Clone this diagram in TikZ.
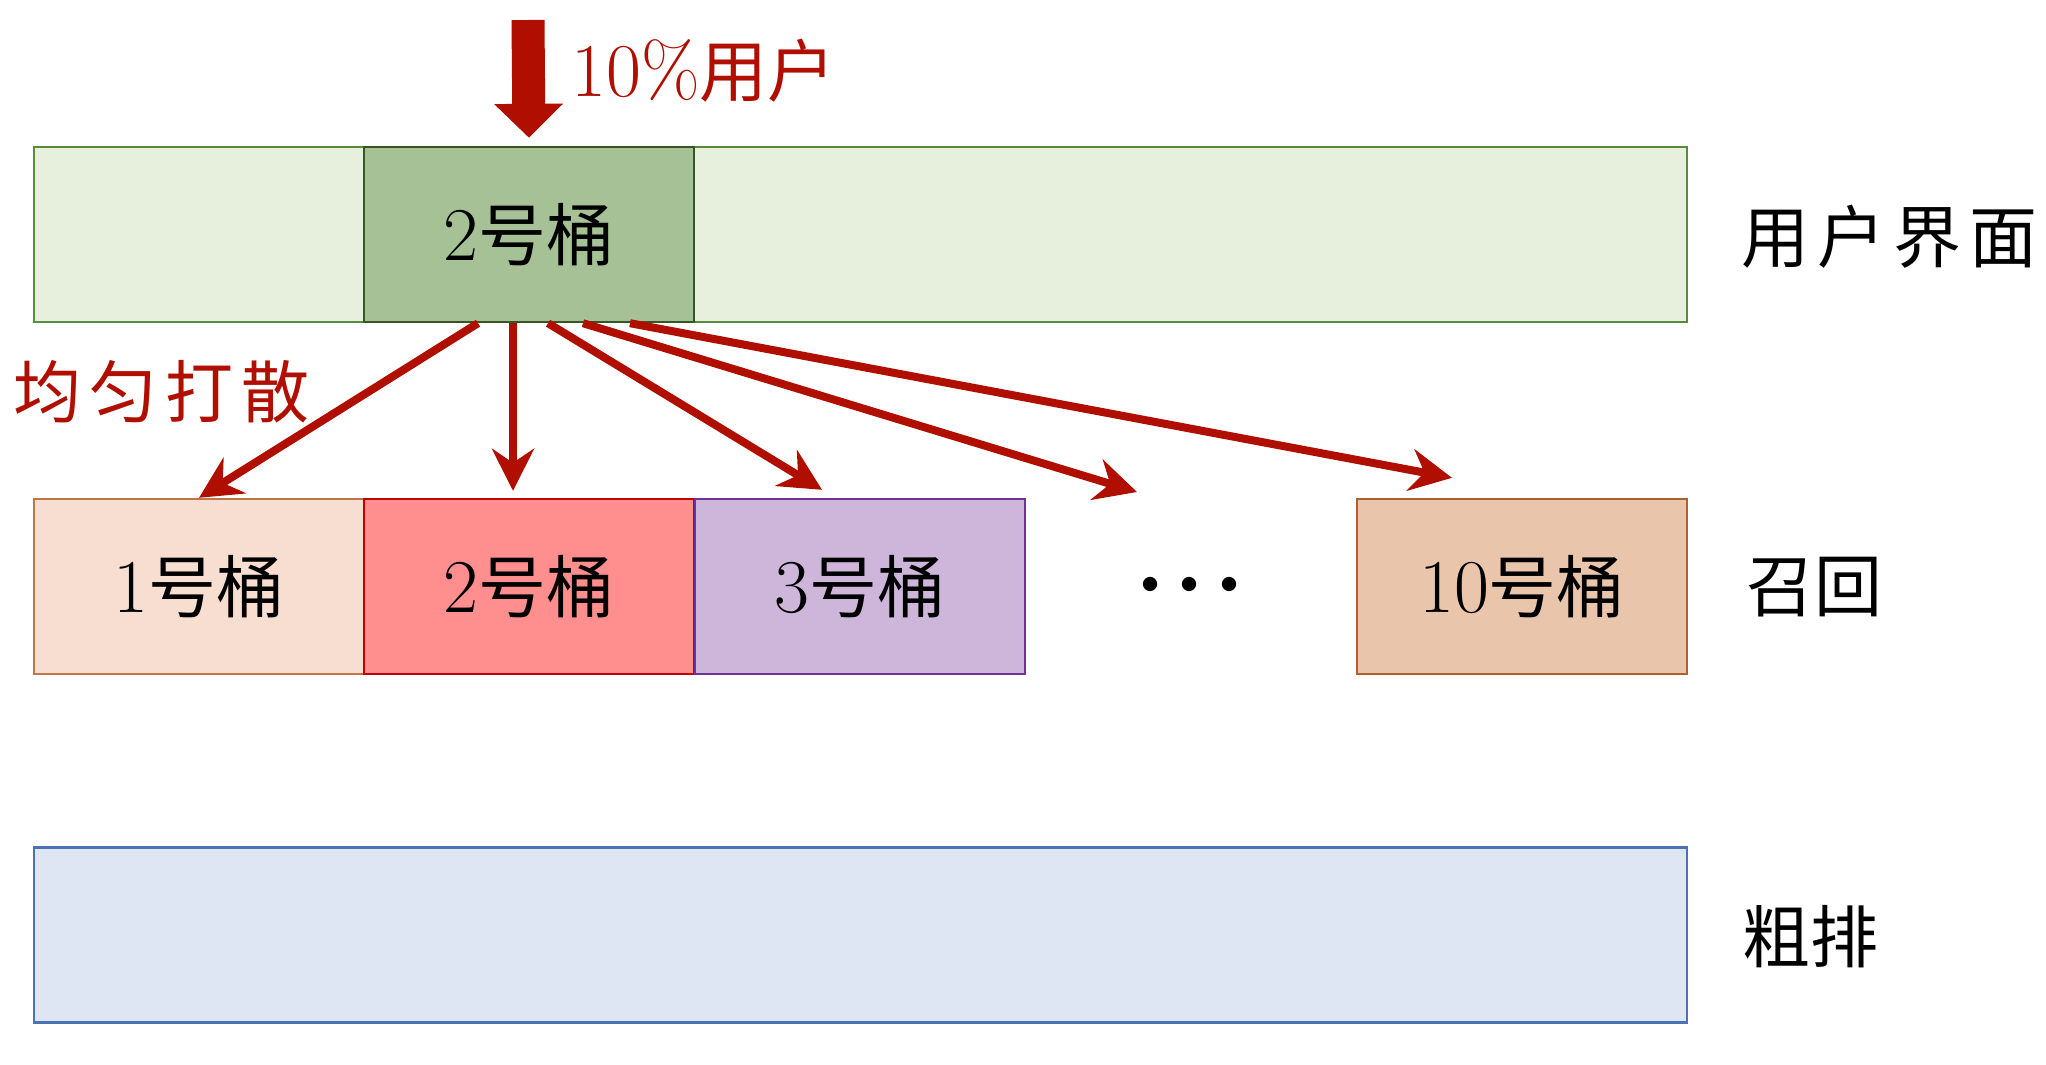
\documentclass[tikz,border=0pt]{standalone}
\usepackage{fontspec}
\newfontfamily\cjk{Noto Sans CJK SC}
\newfontfamily\cjkwide{Noto Sans CJK SC}[LetterSpace=12]
\usetikzlibrary{arrows.meta}

\definecolor{arrowred}{HTML}{B00F00}
\definecolor{uifill}{HTML}{E6F0DD}
\definecolor{uiline}{HTML}{5A8A3C}
\definecolor{hotfill}{HTML}{A5C195}
\definecolor{hotline}{HTML}{375623}
\definecolor{onefill}{HTML}{F8DED0}
\definecolor{oneline}{HTML}{C07648}
\definecolor{twofill}{HTML}{FF8E8E}
\definecolor{twoline}{HTML}{C00000}
\definecolor{threefill}{HTML}{CEB6DB}
\definecolor{threeline}{HTML}{7030A0}
\definecolor{tenfill}{HTML}{E9C5AB}
\definecolor{tenline}{HTML}{B0602F}
\definecolor{rankfill}{HTML}{DFE6F3}
\definecolor{rankline}{HTML}{4A72B4}

\newcommand\tong[1]{{\fontsize{38}{40}\selectfont #1}{\cjk 号桶}}

\tikzset{
  layer/.style={draw, line width=1.2pt, minimum height=87.5pt, inner sep=0pt},
  bucket/.style={layer, minimum width=165pt, font=\fontsize{34}{40}\selectfont},
  tag/.style={anchor=west, inner sep=0pt, font=\fontsize{34}{40}\selectfont},
  spread/.style={draw=arrowred, line width=4pt,
    -{Stealth[length=21pt, width=21pt, inset=7pt]}},
}

\begin{document}
\begin{tikzpicture}[x=0.5pt, y=-0.5pt]

      \useasboundingbox (0, 0) rectangle (2046, 1065);

      % layers
      \node[layer, fill = uifill, draw = uiline, minimum width = 826.5pt] (ui) at (860.5, 234.5) {};
      \node[bucket, fill = hotfill, draw = hotline] (hot) at (529, 234.5) {\tong{2}};
      \node[bucket, fill = onefill, draw = oneline] (b1) at (199, 586.5) {\tong{1}};
      \node[bucket, fill = twofill, draw = twoline] (b2) at (529, 586.5) {\tong{2}};
      \node[bucket, fill = threefill, draw = threeline] (b3) at (860, 586.5) {\tong{3}};
      \node[bucket, fill = tenfill, draw = tenline] (b10) at (1522, 586.5) {\tong{10}};
      \node[inner sep = 0pt, font = \fontsize{32}{34}\selectfont] (dots) at (1190, 589)
        {\textbullet\hspace{-3.5pt}\textbullet\hspace{-3.5pt}\textbullet};
      \node[layer, fill = rankfill, draw = rankline, minimum width = 826.5pt] (rank) at (860.5, 935) {};

      % stage names
      \node[tag] (uiname) at (1741, 237) {\cjkwide 用户界面};
      \node[tag] (recallname) at (1746, 587) {\cjk 召回};
      \node[tag] (rankname) at (1742, 937) {\cjk 粗排};

      % incoming users
      \coordinate (src) at (528, 20);
      \draw[arrowred, line width = 16.5pt, -{Triangle[length = 17pt, width = 33.5pt]}]
        (src) -- ([yshift = 4pt]hot.north);
      \node[tag, text = arrowred] (share) at (571, 71) {{\fontsize{38}{40}\selectfont 10\%}{\cjk 用户}};
      \node[tag, text = arrowred] (mix) at (13, 392) {\cjkwide 均匀打散};

      % spreading to buckets
      \coordinate (more) at (1137, 492);
      \draw[spread] ([xshift = -25.5pt]hot.south) -- (b1.north);
      \draw[spread] ([xshift = -8pt]hot.south) -- ([xshift = -8pt, yshift = 3.5pt]b2.north);
      \draw[spread] ([xshift = 9.5pt]hot.south) -- ([xshift = -19pt, yshift = 4pt]b3.north);
      \draw[spread] ([xshift = 27pt]hot.south) -- (more);
      \draw[spread] ([xshift = 50.5pt]hot.south) -- ([xshift = -35pt, yshift = 10pt]b10.north);

    \end{tikzpicture}
\end{document}
